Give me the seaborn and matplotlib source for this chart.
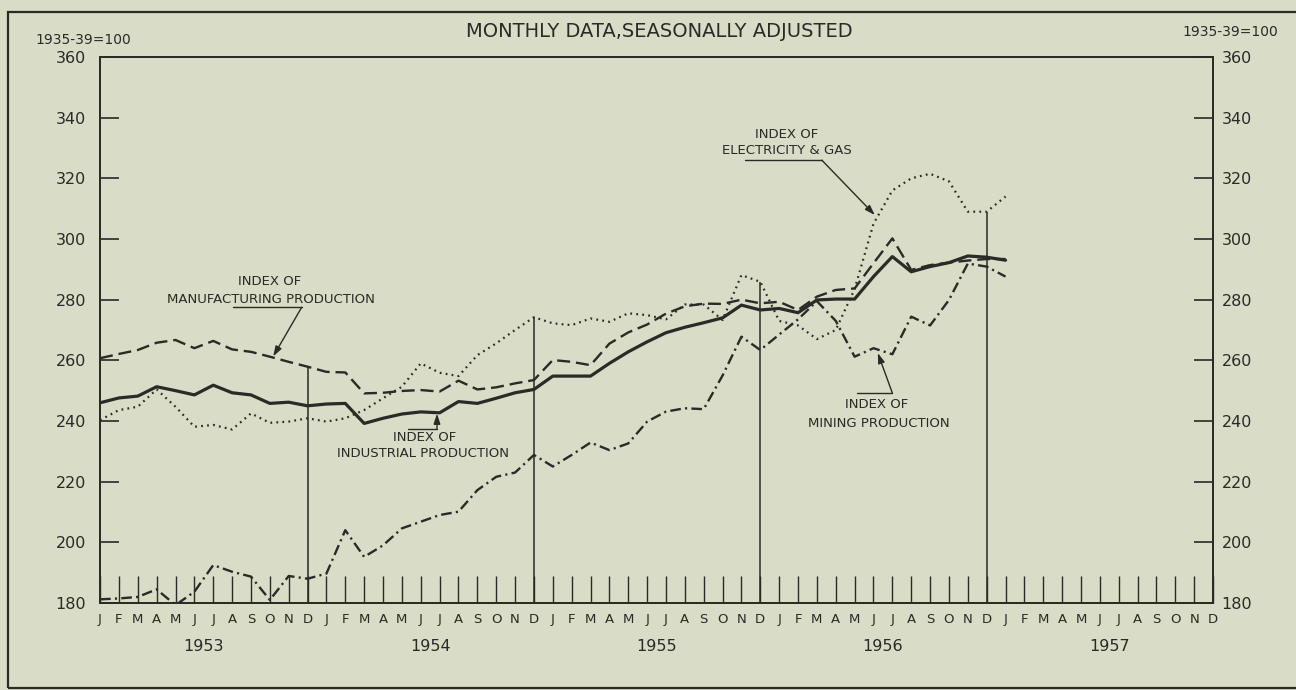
import numpy as np
import pandas as pd
import seaborn as sns
import matplotlib.pyplot as plt
from matplotlib.patches import Rectangle

# Monthly index values, Jan 1953 through Jan 1957 (1935-39 = 100)
years = ['1953', '1954', '1955', '1956', '1957']
month_letters = ['J', 'F', 'M', 'A', 'M', 'J', 'J', 'A', 'S', 'O', 'N', 'D']

industrial = [246.0, 247.6, 248.2, 251.3, 250.0, 248.6, 251.8, 249.3, 248.6, 245.8, 246.2, 245.0,
              245.6, 245.8, 239.2, 240.9, 242.3, 243.0, 242.7, 246.4, 245.8, 247.5, 249.3, 250.4,
              254.8, 254.8, 254.8, 259.0, 262.8, 266.1, 269.1, 270.9, 272.4, 274.0, 278.2, 276.6,
              277.1, 275.7, 279.9, 280.2, 280.2, 287.6, 294.2, 289.2, 290.9, 292.2, 294.4, 294.0,
              293.0]
manufacturing = [260.7, 262.1, 263.4, 265.8, 266.7, 264.0, 266.4, 263.6, 262.8, 261.2, 259.5, 257.9,
                 256.2, 256.0, 249.1, 249.3, 249.9, 250.2, 249.7, 253.3, 250.4, 251.1, 252.4, 253.5,
                 260.1, 259.5, 258.4, 265.5, 269.2, 271.8, 275.4, 277.8, 278.7, 278.6, 280.0, 278.8,
                 279.3, 276.6, 281.0, 283.2, 283.7, 292.0, 300.2, 289.8, 291.4, 292.2, 292.9, 293.4,
                 293.4]
electricity = [240.3, 243.6, 244.7, 250.4, 244.7, 238.1, 238.7, 237.2, 242.5, 239.4, 239.8, 240.9,
               239.8, 240.9, 243.6, 247.5, 251.3, 259.0, 255.9, 254.8, 261.7, 265.6, 270.0, 274.2,
               272.2, 271.6, 273.8, 272.7, 275.5, 274.9, 273.5, 278.4, 278.4, 273.3, 288.1, 285.9,
               273.0, 271.5, 267.0, 270.0, 283.5, 305.0, 316.0, 320.0, 321.5, 319.0, 309.0, 309.0,
               314.0]
mining = [181.2, 181.5, 182.0, 184.5, 179.3, 183.7, 192.5, 190.3, 188.7, 181.0, 188.9, 188.0,
          189.7, 204.0, 195.2, 199.0, 204.6, 206.8, 209.0, 210.1, 217.2, 221.6, 223.0, 228.8,
          225.0, 228.8, 232.9, 230.4, 232.6, 239.8, 243.1, 244.2, 243.9, 255.0, 267.8, 263.4,
          268.5, 273.5, 279.5, 273.0, 261.2, 264.0, 262.0, 274.4, 271.5, 279.9, 291.9, 290.9,
          287.6]

BG = '#d9dcc7'
INK = '#2a2a27'

sns.set_style('white')
plt.rcParams['font.family'] = ['DejaVu Sans']
plt.rcParams['text.color'] = INK

n = len(industrial)
df = pd.DataFrame({
    'month': np.tile(np.arange(n), 4),
    'value': industrial + manufacturing + electricity + mining,
    'series': np.repeat(['industrial', 'manufacturing', 'electricity', 'mining'], n),
})

fig = plt.figure(figsize=(12.96, 6.9), dpi=100, facecolor=BG)
ax = fig.add_axes([0.0772, 0.1261, 0.8588, 0.7913], facecolor=BG)

styles = {
    'industrial': dict(linewidth=2.3, linestyle='-'),
    'manufacturing': dict(linewidth=1.7, linestyle=(0, (5.5, 2.5))),
    'electricity': dict(linewidth=1.6, linestyle=(0, (0.8, 1.9))),
    'mining': dict(linewidth=1.7, linestyle=(0, (4.5, 1.8, 0.9, 1.8))),
}
for name, kw in styles.items():
    sub = df[df['series'] == name]
    sns.lineplot(data=sub, x='month', y='value', ax=ax, color=INK, legend=False, **kw)

ax.set_xlim(0, 59)
ax.set_ylim(180, 360)
ax.set_xlabel('')
ax.set_ylabel('')

# month ticks and letters
ax.set_xticks(range(12 * len(years)))
ax.set_xticklabels(month_letters * len(years))
ax.tick_params(axis='x', bottom=True, direction='in', length=19.5, width=1.0, pad=7,
               labelsize=9.5, colors=INK)

# left and right value axes
yt = list(range(180, 361, 20))
ax.set_yticks(yt)
ax.tick_params(axis='y', left=True, direction='in', length=13.5, width=1.2, pad=10,
               labelsize=11.5, colors=INK)
ax2 = ax.twinx()
ax2.set_ylim(180, 360)
ax2.set_yticks(yt)
ax2.tick_params(axis='y', right=True, direction='in', length=13.5, width=1.2, pad=6,
                labelsize=11.5, colors=INK)
for a in (ax, ax2):
    for sp in a.spines.values():
        sp.set_color(INK)
        sp.set_linewidth(1.3)

# year separator lines, up to the highest series value in December
dec_idx = [11, 23, 35, 47]
tops = [max(s[i] for s in (industrial, manufacturing, electricity, mining)) for i in dec_idx]
ax.vlines(dec_idx, 180, tops, colors=INK, linewidth=1.1)

# year labels
for i, yr in enumerate(years):
    ax.text(i * 12 + 5.5, -0.079, yr, transform=ax.get_xaxis_transform(),
            ha='center', va='center', fontsize=11.5)

# series labels with leader arrows
label_kw = dict(ha='center', va='center', fontsize=9.5)
arrow_kw = dict(arrowstyle='-|>,head_length=0.6,head_width=0.2', color=INK, lw=1.0,
                shrinkA=0, shrinkB=0)

ax.text(9.0, 286.1, 'INDEX OF', **label_kw)
ax.text(9.06, 280.2, 'MANUFACTURING PRODUCTION', **label_kw)
ax.plot([7.05, 10.69], [277.5, 277.5], color=INK, lw=1.0)
ax.annotate('', xy=(9.18, 261.3), xytext=(10.69, 277.5), arrowprops=arrow_kw)

ax.text(17.22, 234.4, 'INDEX OF', **label_kw)
ax.text(17.12, 229.4, 'INDUSTRIAL PRODUCTION', **label_kw)
ax.plot([16.32, 17.86], [237.3, 237.3], color=INK, lw=1.0)
ax.annotate('', xy=(17.86, 242.4), xytext=(17.86, 237.3), arrowprops=arrow_kw)

ax.text(36.4, 334.6, 'INDEX OF', **label_kw)
ax.text(36.4, 329.3, 'ELECTRICITY & GAS', **label_kw)
ax.plot([34.2, 38.26], [326.0, 326.0], color=INK, lw=1.0)
ax.annotate('', xy=(41.07, 307.9), xytext=(38.26, 326.0), arrowprops=arrow_kw)

ax.text(41.18, 245.3, 'INDEX OF', **label_kw)
ax.text(41.28, 239.3, 'MINING PRODUCTION', **label_kw)
ax.plot([40.1, 42.0], [249.2, 249.2], color=INK, lw=1.0)
ax.annotate('', xy=(41.23, 262.4), xytext=(42.0, 249.2), arrowprops=arrow_kw)

# headings
fig.text(0.509, 0.955, 'MONTHLY DATA,SEASONALLY ADJUSTED', ha='center', va='center', fontsize=14)
fig.text(0.0645, 0.942, '1935-39=100', ha='center', va='center', fontsize=10)
fig.text(0.949, 0.954, '1935-39=100', ha='center', va='center', fontsize=10)

# outer frame of the figure panel
fig.add_artist(Rectangle((8 / 1296, 2 / 690), 1.2, (688 - 12) / 690, transform=fig.transFigure,
                         fill=False, edgecolor=INK, linewidth=1.6, clip_on=False))

fig.savefig('out.png', dpi=100, facecolor=BG)
